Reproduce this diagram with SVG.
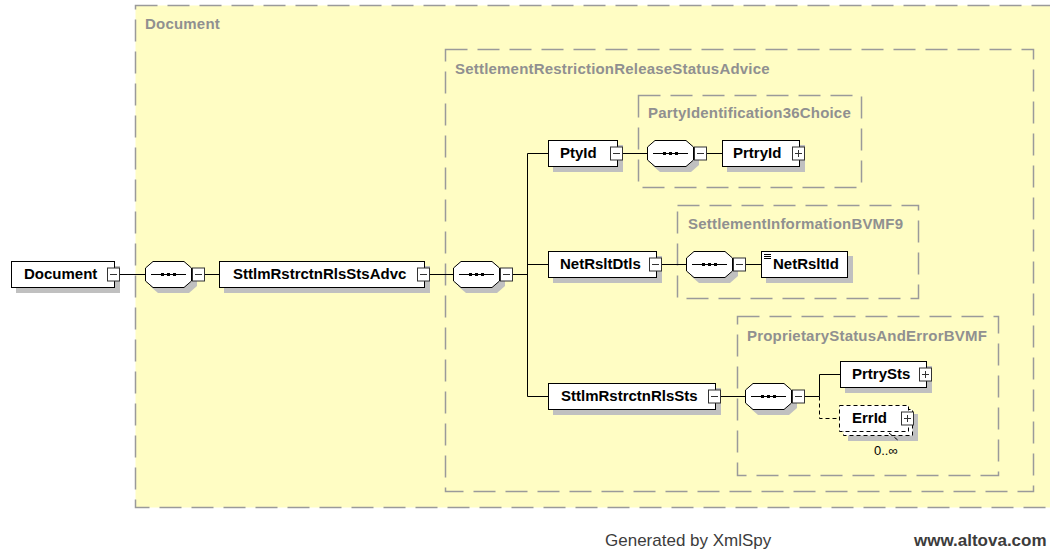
<svg xmlns="http://www.w3.org/2000/svg" width="1050" height="552" viewBox="0 0 1050 552">
<style>
.grp{fill:#FFFDC4;stroke:#9a9a9a;stroke-width:1.5;stroke-dasharray:22 10}
.gl{font-family:"Liberation Sans",Arial,sans-serif;font-size:15px;font-weight:bold;fill:#909090;letter-spacing:0.2px}
.nd{fill:#fff;stroke:#000;stroke-width:1}
.sh{fill:#c0c0c0}
.nt{font-family:"Liberation Sans",Arial,sans-serif;font-size:15px;font-weight:bold;fill:#000}
.btn{fill:#fff;stroke:#333;stroke-width:1}
.bl{stroke:#333;stroke-width:1;fill:none}
.cn{stroke:#000;stroke-width:1;fill:none}
.dash{stroke-dasharray:4 3}
.ft{font-family:"Liberation Sans",Arial,sans-serif;font-size:17px;fill:#3c3c3c}
</style>
<defs>
<g id="minus"><rect class="btn" x="0.5" y="0.5" width="12" height="13"/><path class="bl" d="M3 7H10"/></g>
<g id="plus"><rect class="btn" x="0.5" y="0.5" width="12" height="13"/><path class="bl" d="M3 7H10M6.5 3.5V10.5"/></g>
<polygon id="octs" class="sh" points="8,0 39,0 47,7 47,20 39,27 8,27 0,20 0,7"/>
<g id="oct">
<polygon class="nd" points="8,0.5 39,0.5 46.5,7 46.5,20 39,26.5 8,26.5 0.5,20 0.5,7"/>
<path class="cn" d="M6 13.5H41"/>
<rect x="16" y="12" width="3" height="3" fill="#000"/>
<rect x="22" y="12" width="3" height="3" fill="#000"/>
<rect x="28" y="12" width="3" height="3" fill="#000"/>
<use href="#minus" x="47" y="6.5"/>
</g>
</defs>

<g id="groups">
<rect class="grp" x="135.5" y="5.5" width="940" height="502"/>
<text class="gl" x="145" y="29">Document</text>
<rect class="grp" x="445.5" y="49.5" width="588" height="442"/>
<text class="gl" x="455" y="74">SettlementRestrictionReleaseStatusAdvice</text>
<rect class="grp" x="638.5" y="95.5" width="223" height="92"/>
<text class="gl" x="648" y="118">PartyIdentification36Choice</text>
<rect class="grp" x="677.5" y="205.5" width="241" height="93"/>
<text class="gl" x="688" y="229">SettlementInformationBVMF9</text>
<rect class="grp" x="737.5" y="316.5" width="261" height="159"/>
<text class="gl" x="747" y="341">ProprietaryStatusAndErrorBVMF</text>
</g>

<g id="connectors">
<path class="cn" d="M120 274.5H145M204 274.5H219M430 274.5H453M512 274.5H527.5M527.5 153.5V396.5M527.5 153.5H548M527.5 264.5H548M527.5 396.5H548M623 153.5H647M706 153.5H722M662 264.5H686M745 264.5H761M721 396.5H745M804 396.5H819.5M819.5 396.5V374.5H840"/>
<path class="cn dash" d="M819.5 396.5V418.5H839"/>
</g>

<g id="n_document">
<rect class="sh" x="16" y="266" width="104" height="27"/>
<rect class="nd" x="11.5" y="261.5" width="103" height="26"/>
<text class="nt" x="24" y="279">Document</text>
<use href="#minus" x="107" y="267.5"/>
</g>

<g id="seq1">
<use href="#octs" x="150" y="266"/>
<use href="#oct" x="145" y="261"/>
</g>

<g id="n_advc">
<rect class="sh" x="224" y="266" width="206" height="27"/>
<rect class="nd" x="219.5" y="261.5" width="205" height="26"/>
<text class="nt" x="233" y="279">SttlmRstrctnRlsStsAdvc</text>
<use href="#minus" x="417" y="267.5"/>
</g>

<g id="seq2">
<use href="#octs" x="458" y="266"/>
<use href="#oct" x="453" y="261"/>
</g>

<g id="n_ptyid">
<rect class="sh" x="553" y="145" width="70" height="27"/>
<rect class="nd" x="548.5" y="140.5" width="69" height="26"/>
<text class="nt" x="560" y="158">PtyId</text>
<use href="#minus" x="610" y="146.5"/>
</g>

<g id="seq3">
<use href="#octs" x="652" y="145"/>
<use href="#oct" x="647" y="140"/>
</g>

<g id="n_prtryid">
<rect class="sh" x="727" y="145" width="78" height="27"/>
<rect class="nd" x="722.5" y="140.5" width="77" height="26"/>
<text class="nt" x="733" y="158">PrtryId</text>
<use href="#plus" x="792" y="146.5"/>
</g>

<g id="n_netrsltdtls">
<rect class="sh" x="553" y="256" width="109" height="27"/>
<rect class="nd" x="548.5" y="251.5" width="108" height="26"/>
<text class="nt" x="560" y="269">NetRsltDtls</text>
<use href="#minus" x="649" y="257.5"/>
</g>

<g id="seq4">
<use href="#octs" x="691" y="256"/>
<use href="#oct" x="686" y="251"/>
</g>

<g id="n_netrsltid">
<rect class="sh" x="766" y="256" width="87" height="27"/>
<rect class="nd" x="761.5" y="251.5" width="86" height="26"/>
<path class="cn" d="M764 254.5H771M764 256.5H771M764 258.5H771"/>
<text class="nt" x="773" y="269">NetRsltId</text>
</g>

<g id="n_sttlmsts">
<rect class="sh" x="553" y="388" width="168" height="27"/>
<rect class="nd" x="548.5" y="383.5" width="167" height="26"/>
<text class="nt" x="561" y="401">SttlmRstrctnRlsSts</text>
<use href="#minus" x="708" y="389.5"/>
</g>

<g id="seq5">
<use href="#octs" x="750" y="388"/>
<use href="#oct" x="745" y="383"/>
</g>

<g id="n_prtrysts">
<rect class="sh" x="845" y="366" width="87" height="27"/>
<rect class="nd" x="840.5" y="361.5" width="86" height="26"/>
<text class="nt" x="852" y="379">PrtrySts</text>
<use href="#plus" x="919" y="367.5"/>
</g>

<g id="n_errid">
<rect class="sh" x="848" y="414" width="70" height="27"/>
<rect class="nd dash" x="843.5" y="409.5" width="69" height="26"/>
<rect class="nd dash" x="839.5" y="405.5" width="69" height="26"/>
<text class="nt" x="852" y="423">ErrId</text>
<use href="#plus" x="901" y="411.5"/>
<path class="cn dash" d="M889 433L899 441"/>
<text x="874" y="455" font-family="'Liberation Sans',Arial,sans-serif" font-size="13" fill="#000">0..∞</text>
</g>

<g id="footer">
<text class="ft" x="605" y="546">Generated by XmlSpy</text>
<text class="ft" x="914" y="546" font-weight="bold" fill="#333">www.altova.com</text>
</g>
</svg>
